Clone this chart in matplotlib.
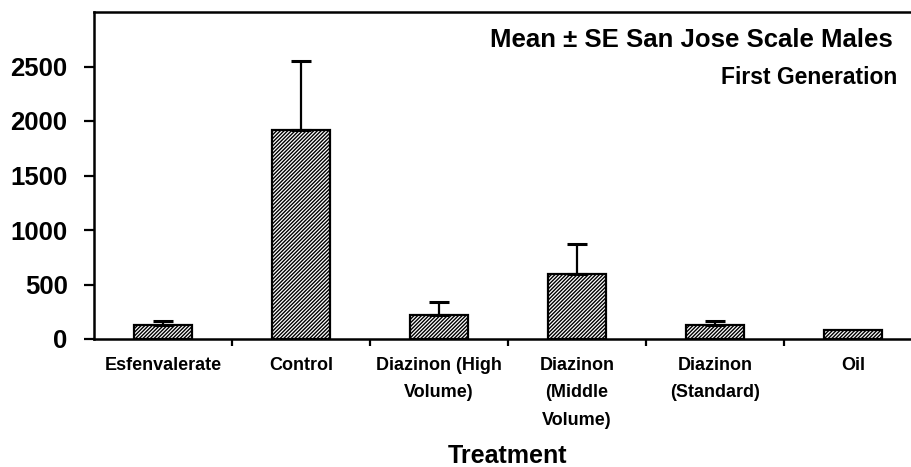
import numpy as np
import matplotlib
matplotlib.use("Agg")
import matplotlib.pyplot as plt
from matplotlib.ticker import FixedLocator

plt.rcParams['font.family'] = ['Liberation Sans', 'DejaVu Sans']
plt.rcParams['font.weight'] = 'bold'
plt.rcParams['hatch.linewidth'] = 1.0

categories = ["Esfenvalerate", "Control", "Diazinon (High\nVolume)",
              "Diazinon\n(Middle\nVolume)", "Diazinon\n(Standard)", "Oil"]
means = [130, 1920, 220, 600, 130, 80]
se = [35, 630, 115, 275, 35, None]
yticks = [0, 500, 1000, 1500, 2000, 2500]

fig = plt.figure(figsize=(9.11, 4.67), dpi=100)
ax = fig.add_axes([94/911, 128/467, 828/911, 327/467])

x = np.arange(len(categories))
ax.bar(x, means, width=0.42, color='white', edgecolor='black',
       linewidth=1.6, hatch='/' * 9, zorder=2)

ex = [xi for xi, s in zip(x, se) if s is not None]
ey = [m for m, s in zip(means, se) if s is not None]
ee = [s for s in se if s is not None]
ax.errorbar(ex, ey, yerr=[np.zeros(len(ee)), ee], fmt='none', ecolor='black',
            elinewidth=1.6, capsize=7.5, capthick=2.2, zorder=3)

ax.set_xlim(-0.5, len(categories) - 0.5)
ax.set_ylim(0, 3000)
ax.set_yticks(yticks)
ax.set_yticklabels([str(v) for v in yticks], fontsize=18.5, fontweight='bold')
ax.set_xticks(x)
ax.set_xticklabels(categories, fontsize=13, fontweight='bold', linespacing=1.8,
                   va='top')
ax.xaxis.set_minor_locator(FixedLocator(x[:-1] + 0.5))
ax.tick_params(axis='x', which='major', length=0, pad=13)
ax.tick_params(axis='x', which='minor', length=5, width=1.6, direction='out')
ax.tick_params(axis='y', which='major', length=7, width=1.6, direction='out', pad=12)

for s in ['left', 'top', 'bottom', 'right']:
    ax.spines[s].set_linewidth(1.8)

ax.set_xlabel("Treatment", fontsize=18, fontweight='bold')
ax.xaxis.label.set_va('baseline')
ax.xaxis.set_label_coords(0.5, -(463 - 339) / 327)

fig.text(893/911, 1 - 40/467, "Mean ± SE San Jose Scale Males", ha='right', va='center',
         fontsize=18.5, fontweight='bold')
fig.text(897/911, 1 - 77/467, "First Generation", ha='right', va='center',
         fontsize=16.5, fontweight='bold')

fig.savefig("out.png", dpi=100)
